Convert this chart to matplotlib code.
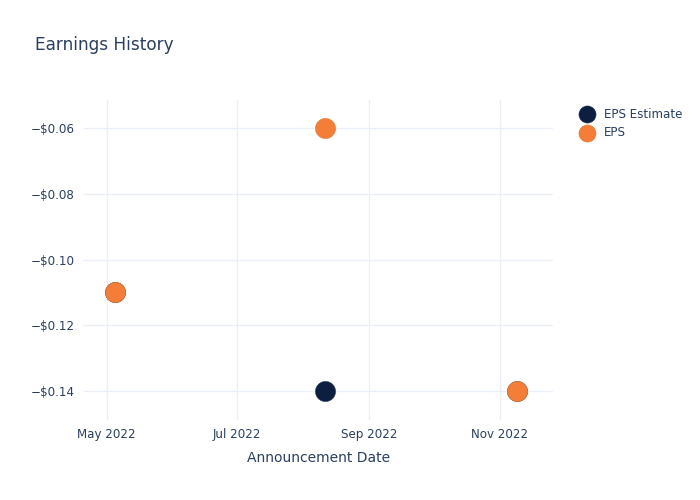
import matplotlib
matplotlib.use("Agg")
import matplotlib.pyplot as plt
import matplotlib.dates as mdates
from matplotlib.ticker import FuncFormatter
import pandas as pd

# 数据
dates = pd.to_datetime(["2022-05-05", "2022-08-11", "2022-11-09"])
eps_estimate = [-0.11, -0.14, -0.14]
eps_actual = [-0.11, -0.06, -0.14]

text_color = "#2a3f5f"
grid_color = "#ebf0f8"
navy = "#0c1f40"
orange = "#f47e37"

plt.rcParams["font.family"] = ["DejaVu Sans"]

fig = plt.figure(figsize=(7, 5), dpi=100)
ax = fig.add_axes([0.119, 0.16, 0.671, 0.64])

ax.scatter(dates, eps_estimate, s=210, color=navy, edgecolors="#2a3a55",
           linewidths=0.4, zorder=3, label="EPS Estimate")
ax.scatter(dates, eps_actual, s=210, color=orange, edgecolors="#e07a3c",
           linewidths=0.4, zorder=4, label="EPS")

ax.set_xlim(pd.Timestamp("2022-04-20"), pd.Timestamp("2022-11-26"))
ax.set_ylim(-0.1488, -0.0515)

ax.xaxis.set_major_locator(mdates.MonthLocator(bymonth=[1, 3, 5, 7, 9, 11]))
ax.xaxis.set_major_formatter(mdates.DateFormatter("%b %Y"))
ax.set_yticks([-0.14, -0.12, -0.10, -0.08, -0.06])
ax.yaxis.set_major_formatter(FuncFormatter(lambda v, p: "\u2212$%.2f" % abs(v)))

ax.grid(True, color=grid_color, linewidth=1)
ax.set_axisbelow(True)
for s in ax.spines.values():
    s.set_visible(False)
ax.tick_params(length=0, labelsize=8.6, colors=text_color, pad=6)

ax.set_xlabel("Announcement Date", fontsize=10, color=text_color, labelpad=7)
fig.text(0.05, 0.9, "Earnings History", fontsize=12.2, color=text_color)

leg = ax.legend(loc="upper left", bbox_to_anchor=(1.025, 1.01), frameon=False,
                fontsize=8.6, labelcolor=text_color, handletextpad=0.35,
                markerscale=0.85, labelspacing=0.45)

fig.savefig("out.png", dpi=100)
